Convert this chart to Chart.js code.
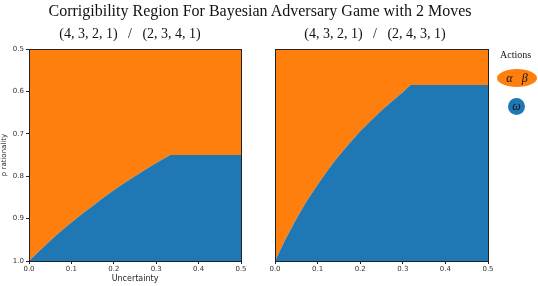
<!DOCTYPE html>
<html>
<head>
<meta charset="utf-8">
<script src="https://cdn.jsdelivr.net/npm/chart.js@4.4.1/dist/chart.umd.min.js"></script>
<style>
  body { margin: 0; background: #fff; }
  #wrap { position: relative; width: 538px; height: 286px; overflow: hidden; }
  canvas { position: absolute; top: 0; }
  .txt { position: absolute; white-space: pre; color: #111; font-family: "Liberation Serif", "DejaVu Serif", serif; }
  #main-title { left: 0; width: 520px; top: 2px; text-align: center; font-size: 16px; }
  .sub-title { top: 26px; font-size: 14px; text-align: center; width: 240px; }
  #legend-title { left: 500px; top: 49px; font-size: 10px; }
  .blob { position: absolute; border-radius: 50%; display: flex; align-items: center; justify-content: center;
          font-family: "Liberation Serif", "DejaVu Serif", serif; font-style: italic; font-size: 12px; color: #111; white-space: pre; }
</style>
</head>
<body>
<div id="wrap">
  <canvas id="left-chart" width="262" height="286" style="left:0"></canvas>
  <canvas id="right-chart" width="276" height="286" style="left:262px"></canvas>
  <div class="txt" id="main-title"></div>
  <div class="txt sub-title" id="left-title" style="left:10px"></div>
  <div class="txt sub-title" id="right-title" style="left:255px"></div>
  <div class="txt" id="legend-title"></div>
  <div id="legend"></div>
</div>
<script>
// --- Data ---
const mainTitle = "Corrigibility Region For Bayesian Adversary Game with 2 Moves";
const panelTitles = ["(4, 3, 2, 1)   /   (2, 3, 4, 1)", "(4, 3, 2, 1)   /   (2, 4, 3, 1)"];
const xTitle = "Uncertainty";
const yTitle = "p rationality";
const legendTitle = "Actions";
const actionLabels = ["α   β", "ω"];
const actionColors = ["#ff7f0e", "#1f77b4"];

// boundary between the two regions (y axis inverted, 1.0 at the bottom)
const uncertaintyLeft = [0, 0.025, 0.05, 0.075, 0.1, 0.125, 0.15, 0.175, 0.2, 0.225, 0.25, 0.275, 0.3, 0.333, 0.5];
const boundaryLeft    = [1.0, 0.976, 0.952, 0.93, 0.909, 0.889, 0.87, 0.851, 0.833, 0.816, 0.8, 0.784, 0.769, 0.75, 0.75];
const uncertaintyRight = [0, 0.025, 0.05, 0.075, 0.1, 0.125, 0.15, 0.175, 0.2, 0.225, 0.25, 0.275, 0.3, 0.318, 0.5];
const boundaryRight    = [1.0, 0.948, 0.901, 0.858, 0.82, 0.784, 0.752, 0.722, 0.694, 0.669, 0.645, 0.623, 0.602, 0.585, 0.585];

const xTicks = [0, 0.1, 0.2, 0.3, 0.4, 0.5];
const yTicks = [0.5, 0.6, 0.7, 0.8, 0.9, 1.0];

// --- Text bits ---
document.getElementById('main-title').textContent = mainTitle;
document.getElementById('left-title').textContent = panelTitles[0];
document.getElementById('right-title').textContent = panelTitles[1];
document.getElementById('legend-title').textContent = legendTitle;

const legendBox = document.getElementById('legend');
const blobGeom = [
  {left: 497, top: 69, w: 40, h: 18},
  {left: 508, top: 98, w: 17, h: 17}
];
actionLabels.forEach((lab, i) => {
  const b = document.createElement('div');
  b.className = 'blob';
  b.textContent = lab;
  b.style.background = actionColors[i];
  b.style.left = blobGeom[i].left + 'px';
  b.style.top = blobGeom[i].top + 'px';
  b.style.width = blobGeom[i].w + 'px';
  b.style.height = blobGeom[i].h + 'px';
  legendBox.appendChild(b);
});

// --- Chart helpers ---
const frame = {
  id: 'frame',
  afterDraw(chart) {
    const {ctx, chartArea: a} = chart;
    ctx.save();
    ctx.strokeStyle = '#222';
    ctx.lineWidth = 1;
    ctx.strokeRect(Math.round(a.left) + 0.5, Math.round(a.top) + 0.5,
                   Math.round(a.right - a.left), Math.round(a.bottom - a.top));
    ctx.restore();
  }
};

function toPoints(xs, ys) {
  return xs.map((x, i) => ({x: x, y: ys[i]}));
}

function makePanel(id, xs, ys, opts) {
  const pts = toPoints(xs, ys);
  const tickFont = {family: 'DejaVu Sans', size: 7};
  return new Chart(document.getElementById(id), {
    type: 'line',
    data: {
      datasets: [
        { // omega region, below boundary
          data: pts,
          fill: {value: 1.0},
          backgroundColor: actionColors[1],
          borderWidth: 0,
          pointRadius: 0
        },
        { // alpha/beta region, above boundary
          data: pts,
          fill: {value: 0.5},
          backgroundColor: actionColors[0],
          borderWidth: 0,
          pointRadius: 0
        }
      ]
    },
    options: {
      responsive: false,
      animation: false,
      devicePixelRatio: 1,
      layout: {padding: {top: 49, right: opts.padRight, left: 0, bottom: 0}},
      plugins: {legend: {display: false}, tooltip: {enabled: false}},
      scales: {
        x: {
          type: 'linear', min: 0, max: 0.5,
          afterBuildTicks: s => { s.ticks = xTicks.map(v => ({value: v})); },
          afterFit: s => { s.height = 25; },
          ticks: {font: tickFont, color: '#333', padding: 1, callback: v => v.toFixed(1), maxRotation: 0},
          grid: {drawOnChartArea: false, tickLength: 3, color: '#222'},
          border: {display: false},
          title: {display: opts.xTitle, text: xTitle, font: {family: 'DejaVu Sans', size: 8}, color: '#222', padding: {top: 0, bottom: 2}}
        },
        y: {
          type: 'linear', min: 0.5, max: 1.0, reverse: true,
          afterBuildTicks: s => { s.ticks = yTicks.map(v => ({value: v})); },
          afterFit: s => { s.width = opts.yWidth; },
          ticks: {display: opts.yLabels, font: tickFont, color: '#333', padding: 2, callback: v => v.toFixed(1)},
          grid: {drawOnChartArea: false, drawTicks: opts.yLabels, tickLength: 3, color: '#222'},
          border: {display: false},
          title: {display: opts.yLabels, text: yTitle, font: {family: 'DejaVu Sans', size: 7}, color: '#222', padding: {top: 0, bottom: 2}}
        }
      }
    },
    plugins: [frame]
  });
}

makePanel('left-chart', uncertaintyLeft, boundaryLeft, {padRight: 21, yWidth: 29, yLabels: true, xTitle: true});
makePanel('right-chart', uncertaintyRight, boundaryRight, {padRight: 50, yWidth: 13, yLabels: false, xTitle: false});
</script>
</body>
</html>
